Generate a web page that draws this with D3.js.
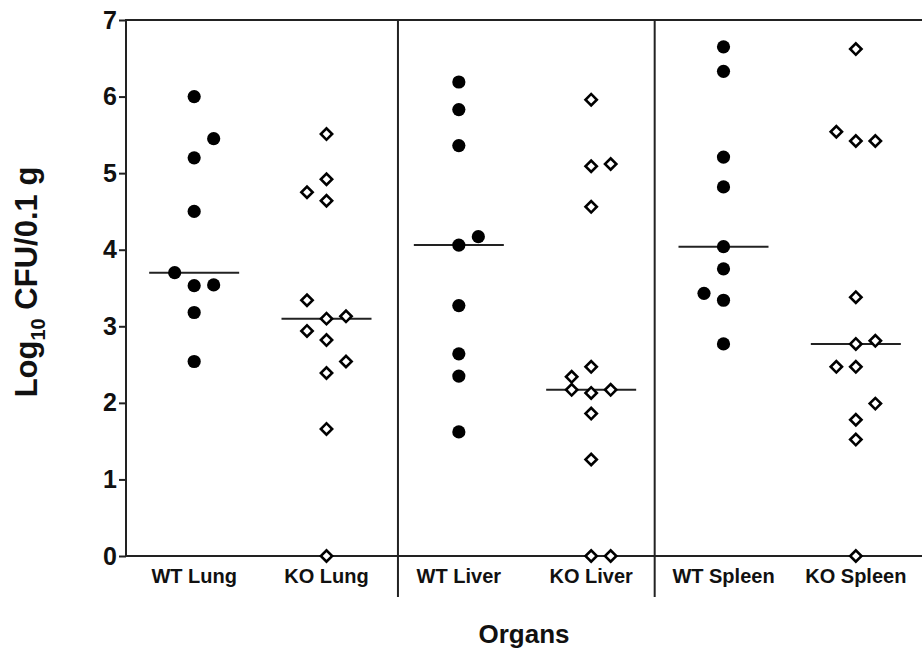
<!DOCTYPE html>
<html>
<head>
<meta charset="utf-8">
<script src="https://cdn.jsdelivr.net/npm/d3@7"></script>
<style>
body { margin: 0; background: #fff; }
text { font-family: Arial, "Liberation Sans", Helvetica, sans-serif; font-weight: bold; fill: #111; }
</style>
</head>
<body>
<div id="chart"></div>
<script>
// categories along the x axis
var groups = ["WT Lung", "KO Lung", "WT Liver", "KO Liver", "WT Spleen", "KO Spleen"];
var yTicks = [0, 1, 2, 3, 4, 5, 6, 7];

// log10 CFU values, with the column each dot sits in (-1 left, 0 middle, 1 right)
var wtLung = [6.00, 5.45, 5.20, 4.50, 3.70, 3.53, 3.54, 3.18, 2.54];
var wtLungSide = [0, 1, 0, 0, -1, 0, 1, 0, 0];
var koLung = [5.51, 4.92, 4.75, 4.64, 3.34, 3.10, 3.13, 2.94, 2.82, 2.54, 2.39, 1.66, 0];
var koLungSide = [0, 0, -1, 0, -1, 0, 1, -1, 0, 1, 0, 0, 0];
var wtLiver = [6.19, 5.83, 5.36, 4.17, 4.06, 3.27, 2.64, 2.35, 1.62];
var wtLiverSide = [0, 0, 0, 1, 0, 0, 0, 0, 0];
var koLiver = [5.96, 5.12, 5.09, 4.56, 2.47, 2.34, 2.17, 2.13, 2.17, 1.86, 1.26, 0, 0];
var koLiverSide = [0, 1, 0, 0, 0, -1, -1, 0, 1, 0, 0, 0, 1];
var wtSpleen = [6.65, 6.33, 5.21, 4.82, 4.04, 3.75, 3.43, 3.34, 2.77];
var wtSpleenSide = [0, 0, 0, 0, 0, 0, -1, 0, 0];
var koSpleen = [6.62, 5.54, 5.42, 5.42, 3.38, 2.81, 2.77, 2.47, 2.47, 1.99, 1.78, 1.52, 0];
var koSpleenSide = [0, -1, 0, 1, 0, 1, 0, -1, 0, 1, 0, 0, 0];

// separators between organs, in category-index units
var separators = [1.54, 3.48];

var values = [wtLung, koLung, wtLiver, koLiver, wtSpleen, koSpleen];
var sides = [wtLungSide, koLungSide, wtLiverSide, koLiverSide, wtSpleenSide, koSpleenSide];

var width = 922, height = 654;
var mLeft = 126, mTop = 20, mBottom = 556, mRight = 922;
var colStep = 19.5;

var svg = d3.select("#chart").append("svg")
    .attr("width", width)
    .attr("height", height);

var x = d3.scalePoint()
    .domain(groups)
    .range([128, 922])
    .padding(0.5);

var y = d3.scaleLinear()
    .domain([0, 7])
    .range([mBottom, mTop]);

function xi(i) { return x(groups[0]) + i * x.step(); }

// y axis with ticks
var yAxis = svg.append("g")
    .attr("transform", "translate(" + mLeft + ",0)")
    .call(d3.axisLeft(y).tickValues(yTicks).tickFormat(d3.format("d")).tickSize(7).tickSizeOuter(0).tickPadding(2));
yAxis.select(".domain").remove();
yAxis.selectAll(".tick line").attr("stroke", "#222").attr("stroke-width", 2);
yAxis.selectAll(".tick text").style("font-size", "25px").attr("fill", "#111");

// frame: y axis line, top line, x axis line
svg.append("line")
    .attr("x1", mLeft).attr("x2", mLeft)
    .attr("y1", y(7) - 1).attr("y2", y(0) + 1)
    .attr("stroke", "#222").attr("stroke-width", 2);
svg.append("line")
    .attr("x1", mLeft).attr("x2", mRight)
    .attr("y1", y(7)).attr("y2", y(7))
    .attr("stroke", "#222").attr("stroke-width", 2);
svg.append("line")
    .attr("x1", mLeft).attr("x2", mRight)
    .attr("y1", y(0)).attr("y2", y(0))
    .attr("stroke", "#222").attr("stroke-width", 2);

// organ separators, reaching below the axis
svg.selectAll(".sep")
    .data(separators)
    .enter().append("line")
    .attr("class", "sep")
    .attr("x1", d => xi(d)).attr("x2", d => xi(d))
    .attr("y1", y(7)).attr("y2", y(0) + 41)
    .attr("stroke", "#222").attr("stroke-width", 2);

// category labels
svg.selectAll(".cat")
    .data(groups)
    .enter().append("text")
    .attr("class", "cat")
    .attr("x", d => x(d))
    .attr("y", y(0) + 27)
    .attr("text-anchor", "middle")
    .style("font-size", "20px")
    .text(d => d);

// axis titles
svg.append("text")
    .attr("x", (mLeft + mRight) / 2)
    .attr("y", 643)
    .attr("text-anchor", "middle")
    .style("font-size", "26px")
    .text("Organs");

var yLabel = svg.append("text")
    .attr("transform", "translate(37," + ((mTop + mBottom) / 2 - 6) + ") rotate(-90)")
    .attr("text-anchor", "middle")
    .style("font-size", "31px");
yLabel.append("tspan").text("Log");
yLabel.append("tspan").attr("dy", 8).style("font-size", "20px").text("10");
yLabel.append("tspan").attr("dy", -8).text(" CFU/0.1 g");

// medians
svg.selectAll(".median")
    .data(groups)
    .enter().append("line")
    .attr("class", "median")
    .attr("x1", d => x(d) - 45).attr("x2", d => x(d) + 45)
    .attr("y1", (d, i) => y(d3.median(values[i])))
    .attr("y2", (d, i) => y(d3.median(values[i])))
    .attr("stroke", "#222").attr("stroke-width", 2);

// points
var points = [];
groups.forEach(function(g, i) {
    values[i].forEach(function(v, j) {
        points.push({group: g, value: v, side: sides[i][j], wt: g.indexOf("WT") === 0});
    });
});

svg.selectAll(".dot")
    .data(points.filter(d => d.wt))
    .enter().append("circle")
    .attr("class", "dot")
    .attr("cx", d => x(d.group) + d.side * colStep)
    .attr("cy", d => y(d.value))
    .attr("r", 6.6)
    .attr("fill", "#000");

svg.selectAll(".diamond")
    .data(points.filter(d => !d.wt))
    .enter().append("path")
    .attr("class", "diamond")
    .attr("d", d3.symbol(d3.symbolSquare, 64))
    .attr("transform", d => "translate(" + (x(d.group) + d.side * colStep) + "," + y(d.value) + ") rotate(45)")
    .attr("fill", "#fff")
    .attr("stroke", "#000")
    .attr("stroke-width", 2.6);
</script>
</body>
</html>
